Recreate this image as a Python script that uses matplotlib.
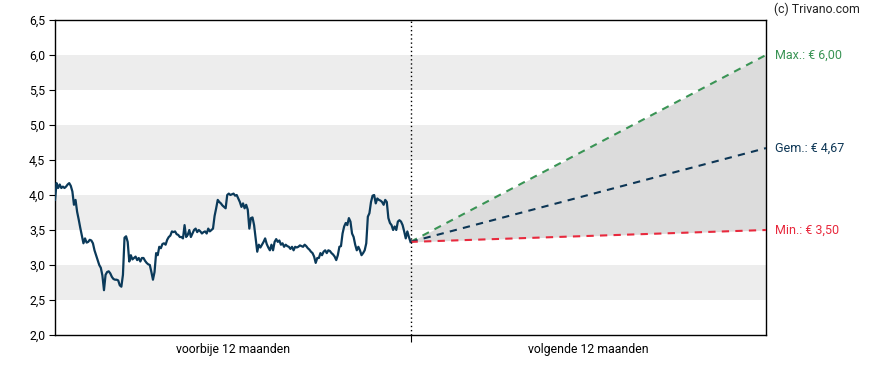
import matplotlib
matplotlib.use("Agg")
import matplotlib.pyplot as plt
import numpy as np

plt.rcParams['font.family'] = ['Roboto', 'DejaVu Sans']

# koers afgelopen 12 maanden (ongeveer gelijk verdeeld in de tijd)
prices = [
    3.93, 4.17, 4.10, 4.15, 4.10, 4.12, 4.10, 4.12, 4.15, 4.17, 4.13, 4.05,
    3.86, 3.93, 3.76, 3.65, 3.53, 3.42, 3.31, 3.38, 3.32, 3.33, 3.36, 3.35,
    3.31, 3.21, 3.14, 3.07, 3.00, 2.96, 2.85, 2.64, 2.86, 2.90, 2.91, 2.88,
    2.83, 2.80, 2.79, 2.79, 2.78, 2.71, 2.69, 2.86, 3.39, 3.41, 3.33, 3.05,
    3.14, 3.08, 3.10, 3.12, 3.07, 3.10, 3.05, 3.10,
    3.10, 3.06, 3.03, 3.01, 3.00, 2.90, 2.79, 2.90, 3.17, 3.14, 3.26, 3.24,
    3.30, 3.31, 3.29, 3.36, 3.40, 3.42, 3.48, 3.47, 3.48, 3.44, 3.43, 3.40,
    3.40, 3.38, 3.57, 3.40, 3.43, 3.50, 3.40, 3.45, 3.50, 3.52, 3.47, 3.50,
    3.48, 3.45, 3.47, 3.48, 3.45, 3.52, 3.48, 3.50, 3.52, 3.70, 3.81, 3.93,
    3.90, 3.88, 3.85, 3.83, 3.81, 4.00, 4.02, 4.00,
    4.01, 4.02, 3.99, 4.00, 3.95, 3.90, 3.83, 3.88, 3.81, 3.86, 3.79, 3.52,
    3.67, 3.68, 3.57, 3.38, 3.19, 3.29, 3.25, 3.29, 3.33, 3.38, 3.30, 3.25,
    3.21, 3.29, 3.21, 3.33, 3.37, 3.33, 3.35, 3.29, 3.31, 3.26, 3.29, 3.27,
    3.26, 3.23, 3.26, 3.21, 3.26, 3.25, 3.26, 3.28, 3.27, 3.26, 3.29, 3.27,
    3.24, 3.22, 3.19, 3.17, 3.12, 3.03, 3.10,
    3.10, 3.17, 3.14, 3.19, 3.21, 3.17, 3.21, 3.20, 3.17, 3.15, 3.12, 3.07,
    3.14, 3.26, 3.27, 3.45, 3.55, 3.60, 3.57, 3.67, 3.62, 3.45, 3.40, 3.29,
    3.21, 3.26, 3.21, 3.14, 3.17, 3.21, 3.31, 3.69, 3.74, 3.90, 3.99, 4.00,
    3.88, 3.95, 3.93, 3.92, 3.90, 3.86, 3.93, 3.90, 3.67, 3.60, 3.57, 3.50,
    3.55, 3.50, 3.62, 3.64, 3.62, 3.57, 3.48, 3.38, 3.48, 3.40, 3.33,
]

# koersdoelen over 12 maanden
target_max = 6.00
target_avg = 4.67
target_min = 3.50

period_labels = ["voorbije 12 maanden", "volgende 12 maanden"]
yticks = [2.0, 2.5, 3.0, 3.5, 4.0, 4.5, 5.0, 5.5, 6.0, 6.5]
bands = [(2.5, 3.0), (3.5, 4.0), (4.5, 5.0), (5.5, 6.0)]

fig = plt.figure(figsize=(8.88, 3.70), dpi=100)
ax = fig.add_axes([55 / 888, 35 / 370, 711 / 888, 315 / 370])

for lo, hi in bands:
    ax.axhspan(lo, hi, color="#ededed", lw=0, zorder=0)

x_hist = np.linspace(0, 1, len(prices))
last = prices[-1]

ax.fill_between([1, 2], [last, target_min], [last, target_max],
                color="#dcdcdc", lw=0, zorder=1)
ax.plot([1, 2], [last, target_max], ls=(0, (3.5, 3)), color="#3a9455", lw=1.5, zorder=3)
ax.plot([1, 2], [last, target_avg], ls=(0, (3.5, 3)), color="#0d3655", lw=1.5, zorder=3)
ax.plot([1, 2], [last, target_min], ls=(0, (3.5, 3)), color="#e8293d", lw=1.5, zorder=3)

ax.plot(x_hist, prices, color="#0b3a5a", lw=1.6, zorder=4)
ax.axvline(1, color="black", ls=(0, (1, 2)), lw=1, zorder=5)

ax.set_xlim(0, 2)
ax.set_ylim(2.0, 6.5)
ax.set_yticks(yticks)
ax.set_yticklabels([f"{v:.1f}".replace(".", ",") for v in yticks])
ax.set_xticks([1])
ax.set_xticklabels([""])
ax.set_xticks([0.5, 1.5], minor=True)
ax.set_xticklabels(period_labels, minor=True)
ax.tick_params(axis="x", which="minor", length=0, pad=6, labelsize=8.8)
ax.tick_params(axis="x", which="major", length=5)
ax.tick_params(axis="y", length=4, labelsize=8.8, pad=3)

for s in ax.spines.values():
    s.set_color("black")
    s.set_linewidth(1)

def eur(v):
    return "€ " + f"{v:.2f}".replace(".", ",")

ax.text(2.025, target_max, "Max.: " + eur(target_max), color="#3a9455",
        fontsize=9, va="center", ha="left", clip_on=False)
ax.text(2.025, target_avg, "Gem.: " + eur(target_avg), color="#0d3655",
        fontsize=9, va="center", ha="left", clip_on=False)
ax.text(2.025, target_min, "Min.: " + eur(target_min), color="#e8293d",
        fontsize=9, va="center", ha="left", clip_on=False)

fig.text(774 / 888, 1 - 9 / 370, "(c) Trivano.com", fontsize=8.8,
         ha="left", va="center", color="#222222")

fig.savefig("out.png", dpi=100)
